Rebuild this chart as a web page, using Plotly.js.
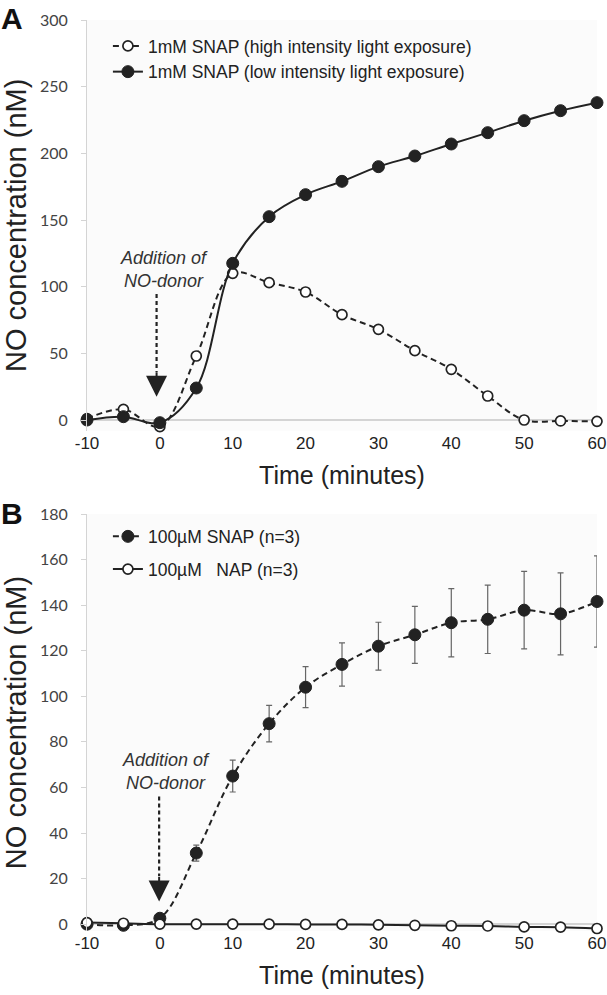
<!DOCTYPE html>
<html><head><meta charset="utf-8">
<script src="https://cdn.plot.ly/plotly-3.0.1.min.js"></script>
<style>html,body{margin:0;padding:0;background:#fff}#chart{width:607px;height:995px}</style>
</head><body><div id="chart"></div>
<script>
// ---- data ----
const timeMin = [-10, -5, 0, 5, 10, 15, 20, 25, 30, 35, 40, 45, 50, 55, 60];
const xTickVals = [-10, 0, 10, 20, 30, 40, 50, 60];
const xTickText = ['-10', '0', '10', '20', '30', '40', '50', '60'];
// Panel A
const snapHighLight = [1, 8, -5, 48, 110, 103, 96, 79, 68, 52, 38, 18, 0, -0.7, -1];
const snapLowLight  = [0, 2.5, -2, 24, 117.5, 152.5, 169, 179, 190, 198, 207, 215.5, 224.5, 232, 238];
// Panel B
const snap100    = [0, -0.5, 2.6, 31.2, 65, 88, 104, 114, 122, 127, 132.3, 133.8, 137.8, 136.2, 141.6];
const snap100Err = [0, 0, 1, 3.5, 7, 8, 9, 9.5, 10.5, 12.5, 15, 15, 17, 18, 20];
const nap100     = [0.7, 0.4, 0, 0, 0, 0, -0.1, -0.1, -0.3, -0.5, -0.7, -0.8, -1.2, -1.3, -1.9];

const nameA1 = '1mM SNAP (high intensity light exposure)';
const nameA2 = '1mM SNAP (low intensity light exposure)';
const nameB1 = '100µM SNAP (n=3)';
const nameB2 = '100µM &nbsp; NAP (n=3)';

const ink = '#222';
const DASH = '6px,4px';
const openMarker = {symbol: 'circle', size: 10, color: '#ffffff', line: {color: ink, width: 1.7}};
const fillMarker = {symbol: 'circle', size: 12, color: ink, line: {color: ink, width: 1}};

const traces = [
  {x: timeMin, y: snapHighLight, xaxis: 'x', yaxis: 'y', name: nameA1, mode: 'lines+markers',
   line: {shape: 'spline', dash: DASH, color: ink, width: 2}, marker: openMarker, cliponaxis: false,
   legend: 'legend', legendgroup: 'a1'},
  {x: timeMin, y: snapLowLight, xaxis: 'x', yaxis: 'y', name: nameA2, mode: 'lines+markers',
   line: {shape: 'spline', color: ink, width: 2}, marker: fillMarker, cliponaxis: false,
   legend: 'legend', legendgroup: 'a2'},
  {x: timeMin, y: snap100, xaxis: 'x2', yaxis: 'y2', name: nameB1, mode: 'lines+markers',
   line: {shape: 'spline', dash: DASH, color: ink, width: 2}, marker: fillMarker, cliponaxis: false,
   error_y: {type: 'data', array: snap100Err, visible: true, color: '#666', thickness: 1.2, width: 3},
   legend: 'legend2', legendgroup: 'b1'},
  {x: timeMin, y: nap100, xaxis: 'x2', yaxis: 'y2', name: nameB2, mode: 'lines+markers',
   line: {shape: 'spline', color: ink, width: 2}, marker: openMarker, cliponaxis: false,
   legend: 'legend2', legendgroup: 'b2'}
];

const sans = 'Liberation Sans, Arial, sans-serif';
const calib = 'Lato, Carlito, Calibri, sans-serif';
const axisCol = '#d4d4d4';

function xAx(anchor) {
  return {anchor: anchor, range: [-10, 60], tickvals: xTickVals, ticktext: xTickText, ticks: '',
    showline: false, showgrid: false, zeroline: false, fixedrange: true,
    tickfont: {family: sans, size: 17, color: ink},
    title: {text: 'Time (minutes)', font: {family: sans, size: 25, color: ink}, standoff: 14}};
}
function yAx(domain, range, dtick, anchor) {
  return {domain: domain, range: range, dtick: dtick, tick0: 0, anchor: anchor,
    ticks: 'outside', ticklen: 5, tickcolor: axisCol, ticklabelstandoff: 10,
    showline: true, linecolor: axisCol, linewidth: 1, showgrid: false,
    zeroline: true, zerolinecolor: axisCol, zerolinewidth: 1.5, fixedrange: true,
    tickfont: {family: calib, size: 16, color: '#444'},
    title: {text: 'NO concentration (nM)', font: {family: sans, size: 29, color: ink}, standoff: 14}};
}

const layout = {
  width: 607, height: 995,
  margin: {l: 87, r: 10, t: 20, b: 64},
  paper_bgcolor: '#ffffff', plot_bgcolor: '#fbfbfb',
  showlegend: true,
  xaxis: xAx('y'),
  yaxis: yAx([0.5492, 1], [-8, 300], 50, 'x'),
  xaxis2: xAx('y2'),
  yaxis2: yAx([0, 0.4577], [-3, 180], 20, 'x2'),
  legend: {x: 0.041, y: 0.9912, xanchor: 'left', yanchor: 'top', bgcolor: 'rgba(0,0,0,0)',
    font: {family: sans, size: 17.5, color: ink}, tracegroupgap: 0, itemwidth: 30},
  legend2: {x: 0.041, y: 0.4528, xanchor: 'left', yanchor: 'top', bgcolor: 'rgba(0,0,0,0)',
    font: {family: sans, size: 17.5, color: ink}, tracegroupgap: 7, itemwidth: 30},
  shapes: [
    {type: 'line', xref: 'x', yref: 'y', x0: -0.45, x1: -0.45, y0: 94.5, y1: 36,
     line: {color: ink, width: 2.2, dash: '4px,3px'}},
    {type: 'line', xref: 'x2', yref: 'y2', x0: -0.1, x1: -0.1, y0: 56, y1: 21,
     line: {color: ink, width: 2.2, dash: '4px,3px'}}
  ],
  annotations: [
    {xref: 'paper', yref: 'paper', x: -0.147, y: 1.002, xanchor: 'center', yanchor: 'middle',
     text: '<b>A</b>', showarrow: false, font: {family: sans, size: 30, color: '#111'}},
    {xref: 'paper', yref: 'paper', x: -0.147, y: 0.4588, xanchor: 'center', yanchor: 'middle',
     text: '<b>B</b>', showarrow: false, font: {family: sans, size: 30, color: '#111'}},
    {xref: 'x', yref: 'y', x: 0.56, y: 113, text: '<i>Addition of<br>NO-donor</i>', showarrow: false,
     font: {family: sans, size: 18, color: '#333'}},
    {xref: 'x2', yref: 'y2', x: 0.9, y: 67, text: '<i>Addition of<br>NO-donor</i>', showarrow: false,
     font: {family: sans, size: 18, color: '#333'}},
    {xref: 'x', yref: 'y', x: -0.45, y: 17.5, ax: 0, ay: -26, text: '', showarrow: true,
     arrowhead: 2, arrowsize: 2.1, arrowwidth: 2, arrowcolor: ink},
    {xref: 'x2', yref: 'y2', x: -0.1, y: 10, ax: 0, ay: -26, text: '', showarrow: true,
     arrowhead: 2, arrowsize: 2.1, arrowwidth: 2, arrowcolor: ink}
  ]
};

Plotly.newPlot('chart', traces, layout, {displayModeBar: false, staticPlot: true});
</script></body></html>
